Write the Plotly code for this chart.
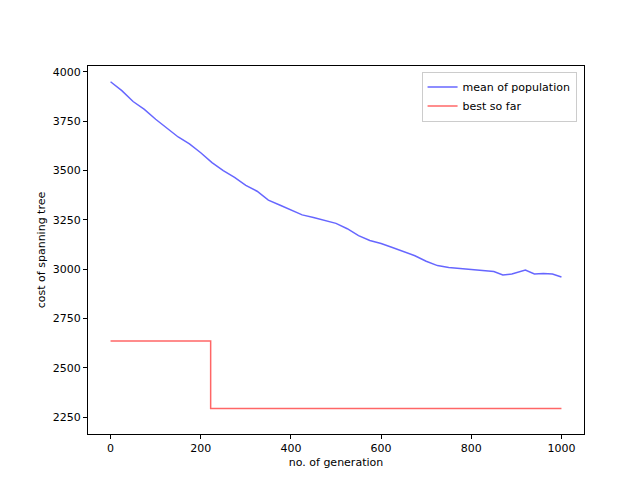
import plotly.graph_objects as go

gen_mean = [0, 25, 50, 75, 100, 125, 150, 175, 200, 225, 250, 275, 300, 325, 350, 375, 400, 425, 450, 475, 500, 525, 550, 575, 600, 625, 650, 675, 700, 725, 750, 775, 800, 825, 850, 870, 890, 920, 940, 960, 980, 1000]
mean_pop = [3950, 3905, 3850, 3810, 3760, 3715, 3670, 3635, 3590, 3540, 3500, 3465, 3425, 3395, 3350, 3325, 3300, 3275, 3262, 3248, 3232, 3205, 3170, 3145, 3130, 3110, 3090, 3068, 3040, 3018, 3008, 3003, 3000, 2992, 2988, 2970, 2975, 2995, 2975, 2978, 2975, 2960]
gen_best = [0, 222, 222, 1000]
best = [2635, 2635, 2293, 2293]

fig = go.Figure()
fig.add_trace(go.Scatter(x=gen_mean, y=mean_pop, mode="lines", name="mean of population",
                         line=dict(color="rgba(0,0,255,0.6)", width=1.5)))
fig.add_trace(go.Scatter(x=gen_best, y=best, mode="lines", name="best so far",
                         line=dict(color="rgba(255,0,0,0.6)", width=1.5)))
ax = dict(showgrid=False, zeroline=False, showline=True, linecolor="black", mirror=True,
          ticks="outside", ticklen=4, tickcolor="black", tickfont=dict(size=11), automargin=False)
fig.update_layout(
    width=640, height=480, plot_bgcolor="white", paper_bgcolor="white",
    margin=dict(l=80, r=64, t=58, b=54),
    font=dict(family="DejaVu Sans", color="black", size=11),
    xaxis=dict(ax, range=[-50, 1050], tickvals=[0, 200, 400, 600, 800, 1000],
               title=dict(text="no. of generation", standoff=4, font=dict(size=11))),
    yaxis=dict(ax, range=[2164, 4030], tickvals=[2250, 2500, 2750, 3000, 3250, 3500, 3750, 4000],
               title=dict(text="cost of spanning tree", standoff=4, font=dict(size=11))),
    legend=dict(x=0.985, y=0.985, xanchor="right", yanchor="top", bordercolor="#cccccc",
                borderwidth=1, bgcolor="white", font=dict(size=11)),
)
fig.write_html("out.html")
